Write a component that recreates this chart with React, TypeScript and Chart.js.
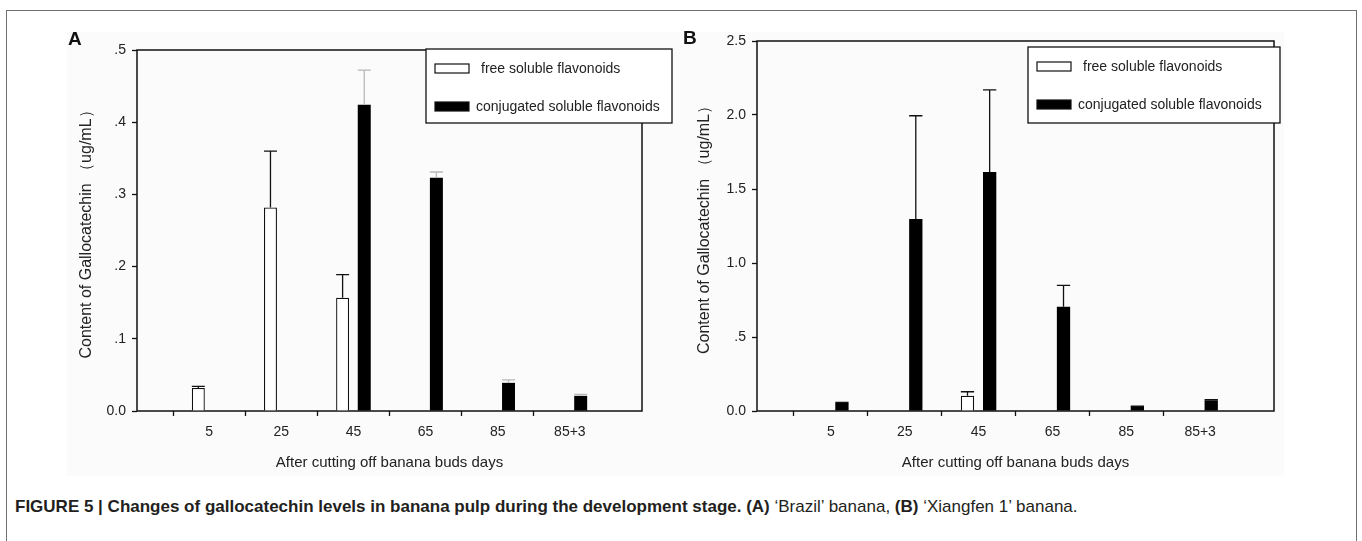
import React, { useEffect, useRef } from 'react';
import { Chart, registerables } from 'chart.js';

Chart.register(...registerables);

// ---------------- data ----------------
const categories = ['5', '25', '45', '65', '85', '85+3'];
const seriesNames = ['free soluble flavonoids', 'conjugated soluble flavonoids'];

// Panel A – 'Brazil' banana
const freeA = [0.032, 0.282, 0.157, null, null, null];
const freeAErr = [0.002, 0.078, 0.032, 0, 0, 0];
const conjA = [null, null, 0.424, 0.323, 0.039, 0.021];
const conjAErr = [0, 0, 0.048, 0.008, 0.004, 0.002];
const yTicksA = ['0.0', '.1', '.2', '.3', '.4', '.5'];

// Panel B – 'Xiangfen 1' banana
const freeB = [null, null, 0.103, null, null, null];
const freeBErr = [0, 0, 0.027, 0, 0, 0];
const conjB = [0.054, 1.297, 1.615, 0.705, 0.029, 0.072];
const conjBErr = [0.004, 0.698, 0.555, 0.144, 0.003, 0.004];
const yTicksB = ['0.0', '.5', '1.0', '1.5', '2.0', '2.5'];

const xTitle = 'After cutting off banana buds days';
const yTitle = 'Content of Gallocatechin （ug/mL）';

// ---------------- helpers ----------------
const FONT = "'Liberation Sans', Arial, Helvetica, sans-serif";
const TEXT = '#222';
const labels = ['', ...categories, ''];
const pad = (a: (number | null)[]) => [null, ...a, null];

type Panel = {
  free: (number | null)[];
  freeErr: number[];
  conj: (number | null)[];
  conjErr: number[];
  conjErrColor: string;
  yMax: number;
  yStep: number;
  yTicks: string[];
  padding: { left: number; right: number; top: number; bottom: number };
  yWidth: number;
  legend: { x: number; y: number; w: number; h: number };
};

function framePlugin() {
  return {
    id: 'frame',
    beforeDatasetsDraw(chart: any) {
      const { ctx, chartArea: a } = chart;
      ctx.save();
      ctx.strokeStyle = '#111';
      ctx.lineWidth = 1.5;
      ctx.strokeRect(a.left, a.top, a.right - a.left, a.bottom - a.top);
      ctx.restore();
    },
  };
}

function errorBarPlugin() {
  return {
    id: 'errbars',
    afterDatasetsDraw(chart: any) {
      const { ctx } = chart;
      const y = chart.scales.y;
      chart.data.datasets.forEach((ds: any, i: number) => {
        const meta = chart.getDatasetMeta(i);
        meta.data.forEach((bar: any, j: number) => {
          const v = ds.data[j];
          const e = ds.errors[j];
          if (v == null || !e) return;
          const top = y.getPixelForValue(v + e);
          const half = bar.width / 2;
          ctx.save();
          ctx.strokeStyle = ds.errColor;
          ctx.lineWidth = 1.3;
          ctx.beginPath();
          ctx.moveTo(bar.x, bar.y);
          ctx.lineTo(bar.x, top);
          ctx.moveTo(bar.x - half, top);
          ctx.lineTo(bar.x + half, top);
          ctx.stroke();
          ctx.restore();
        });
      });
    },
  };
}

function legendPlugin(box: { x: number; y: number; w: number; h: number }) {
  return {
    id: 'figLegend',
    afterDraw(chart: any) {
      const { ctx } = chart;
      ctx.save();
      ctx.fillStyle = '#fff';
      ctx.fillRect(box.x, box.y, box.w, box.h);
      ctx.strokeStyle = '#111';
      ctx.lineWidth = 1.3;
      ctx.strokeRect(box.x, box.y, box.w, box.h);
      const rows = [15, 53];
      const textDx = [55, 50];
      chart.data.datasets.forEach((ds: any, i: number) => {
        const sy = box.y + rows[i];
        ctx.fillStyle = ds.backgroundColor;
        ctx.fillRect(box.x + 9, sy, 34, 9);
        ctx.strokeStyle = '#111';
        ctx.lineWidth = 1.2;
        ctx.strokeRect(box.x + 9, sy, 34, 9);
        ctx.fillStyle = TEXT;
        ctx.font = `14px ${FONT}`;
        ctx.textBaseline = 'middle';
        ctx.textAlign = 'left';
        ctx.fillText(ds.label, box.x + textDx[i], sy + 5);
      });
      ctx.restore();
    },
  };
}

function makeConfig(p: Panel): any {
  return {
    type: 'bar',
    data: {
      labels,
      datasets: [
        {
          label: seriesNames[0],
          data: pad(p.free),
          errors: pad(p.freeErr),
          errColor: '#111',
          backgroundColor: '#fff',
          borderColor: '#111',
          borderWidth: 1.3,
          categoryPercentage: 0.6,
          barPercentage: 0.6,
        },
        {
          label: seriesNames[1],
          data: pad(p.conj),
          errors: pad(p.conjErr),
          errColor: p.conjErrColor,
          backgroundColor: '#000',
          borderColor: '#000',
          borderWidth: 0,
          categoryPercentage: 0.6,
          barPercentage: 0.6,
        },
      ],
    },
    options: {
      responsive: false,
      maintainAspectRatio: false,
      animation: false,
      layout: { padding: p.padding },
      plugins: { legend: { display: false }, tooltip: { enabled: false } },
      scales: {
        x: {
          type: 'category',
          offset: false,
          border: { display: false },
          grid: {
            drawOnChartArea: false,
            drawTicks: true,
            tickLength: 5,
            tickWidth: 1.3,
            tickColor: (c: any) =>
              c.index === 0 || c.index === labels.length - 1 ? 'rgba(0,0,0,0)' : '#111',
          },
          ticks: {
            autoSkip: false,
            maxRotation: 0,
            padding: 8,
            color: TEXT,
            font: { family: FONT, size: 14 },
          },
          title: {
            display: true,
            text: xTitle,
            color: TEXT,
            font: { family: FONT, size: 15 },
            padding: { top: 0, bottom: 8 },
          },
          afterFit: (s: any) => {
            s.height = 69;
          },
        },
        y: {
          min: 0,
          max: p.yMax,
          border: { display: false },
          grid: { drawOnChartArea: false, tickLength: 5, tickWidth: 1.3, tickColor: '#111' },
          ticks: {
            stepSize: p.yStep,
            padding: 6,
            color: TEXT,
            font: { family: FONT, size: 14 },
            callback: (_v: any, i: number) => p.yTicks[i],
          },
          title: {
            display: true,
            text: yTitle,
            color: TEXT,
            font: { family: FONT, size: 16 },
            padding: { top: 0, bottom: 0 },
          },
          afterFit: (s: any) => {
            s.width = p.yWidth;
          },
        },
      },
    },
    plugins: [framePlugin(), errorBarPlugin(), legendPlugin(p.legend)],
  };
}

const panelA: Panel = {
  free: freeA,
  freeErr: freeAErr,
  conj: conjA,
  conjErr: conjAErr,
  conjErrColor: '#b8b8b8',
  yMax: 0.5,
  yStep: 0.1,
  yTicks: yTicksA,
  padding: { left: 77, right: 48, top: 50, bottom: 0 },
  yWidth: 60,
  legend: { x: 426, y: 49, w: 246, h: 74 },
};

const panelB: Panel = {
  free: freeB,
  freeErr: freeBErr,
  conj: conjB,
  conjErr: conjBErr,
  conjErrColor: '#111',
  yMax: 2.5,
  yStep: 0.5,
  yTicks: yTicksB,
  padding: { left: 5, right: 88, top: 41, bottom: 0 },
  yWidth: 62,
  legend: { x: 338, y: 47, w: 252, h: 76 },
};

function ChartCanvas({ panel, left, width }: { panel: Panel; left: number; width: number }) {
  const ref = useRef<HTMLCanvasElement | null>(null);
  useEffect(() => {
    if (!ref.current) return;
    const chart = new Chart(ref.current, makeConfig(panel));
    return () => chart.destroy();
  }, [panel]);
  return (
    <canvas
      ref={ref}
      width={width}
      height={480}
      style={{ position: 'absolute', left, top: 0, width, height: 480 }}
    />
  );
}

export default function App() {
  return (
    <div
      style={{
        position: 'absolute',
        left: 0,
        top: 0,
        width: 1362,
        height: 541,
        overflow: 'hidden',
        background: '#fff',
        fontFamily: FONT,
      }}
    >
      <div
        style={{
          position: 'absolute',
          left: 6,
          top: 10,
          width: 1351,
          height: 620,
          boxSizing: 'border-box',
          border: '1.5px solid #707070',
        }}
      />
      <div
        style={{
          position: 'absolute',
          left: 67,
          top: 32,
          width: 1217,
          height: 444,
          background: '#fbfbfb',
        }}
      />
      <ChartCanvas panel={panelA} left={0} width={690} />
      <ChartCanvas panel={panelB} left={690} width={672} />
      <div
        style={{
          position: 'absolute',
          left: 68,
          top: 29,
          fontSize: 19,
          fontWeight: 'bold',
          color: '#111',
          lineHeight: '20px',
        }}
      >
        A
      </div>
      <div
        style={{
          position: 'absolute',
          left: 683,
          top: 28,
          fontSize: 19,
          fontWeight: 'bold',
          color: '#111',
          lineHeight: '20px',
        }}
      >
        B
      </div>
      <div
        style={{
          position: 'absolute',
          left: 15,
          top: 497,
          fontSize: 17,
          lineHeight: '20px',
          color: '#231f20',
          whiteSpace: 'nowrap',
        }}
      >
        <b>
          FIGURE 5 | Changes of gallocatechin levels in banana pulp during the development stage. (A)
        </b>{' '}
        ‘Brazil’ banana, <b>(B)</b> ‘Xiangfen 1’ banana.
      </div>
    </div>
  );
}
